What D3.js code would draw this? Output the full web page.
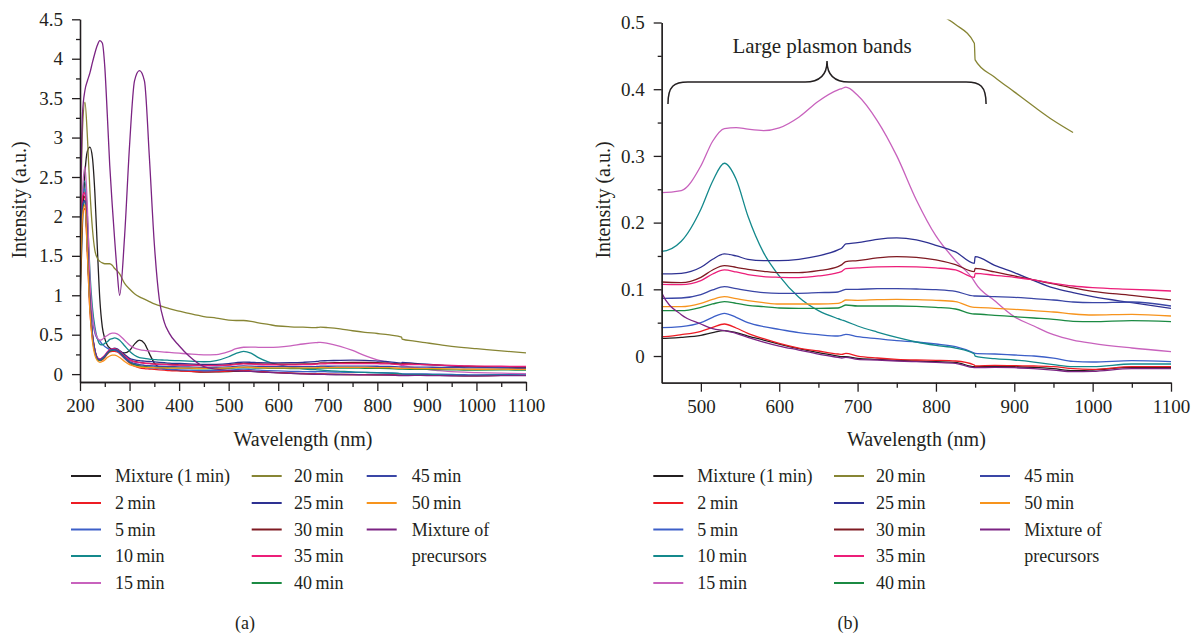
<!DOCTYPE html>
<html>
<head>
<meta charset="utf-8">
<script src="https://cdn.jsdelivr.net/npm/d3@7"></script>
<style>
  body { margin: 0; background: #fff; }
  svg, svg text { font-family: 'Liberation Serif', 'DejaVu Serif', serif; }
</style>
</head>
<body>
<svg></svg>
<script>
// wavelength grid (nm), shared by every spectrum
const wavelengths = [
    200, 205, 210, 215, 220, 225, 230, 235, 240, 245, 250, 255, 260, 265, 270, 275, 280,
    290, 300, 310, 320, 330, 340, 350, 360, 370, 380, 400, 420,
    450, 475, 500, 515, 530, 545, 560, 580, 600, 625, 650, 675, 680, 685, 700,
    725, 750, 775, 800, 825, 849, 850, 875, 900, 925, 950, 975, 1000, 1050, 1100
];

const mix1min = [
    0.9, 1.9, 2.55, 2.83, 2.88, 2.75, 2.3, 1.6, 0.95, 0.6, 0.45, 0.37, 0.33, 0.31, 0.3, 0.29, 0.28,
    0.27, 0.3, 0.38, 0.43, 0.39, 0.26, 0.14, 0.085, 0.065, 0.055, 0.045, 0.038,
    0.0265, 0.028, 0.031, 0.035, 0.038, 0.035, 0.03, 0.024, 0.018, 0.011, 0.005, 0.0, -0.001, -0.001, -0.0035,
    -0.005, -0.0065, -0.0075, -0.0085, -0.0095, -0.016, -0.016, -0.0155, -0.016, -0.017, -0.019, -0.022, -0.021, -0.017, -0.017
];
const min2 = [
    1.2, 2.05, 2.1, 1.5, 0.8, 0.45, 0.27, 0.19, 0.17, 0.18, 0.21, 0.25, 0.28, 0.29, 0.29, 0.28, 0.26,
    0.2, 0.14, 0.1, 0.08, 0.07, 0.065, 0.06, 0.055, 0.05, 0.045, 0.04, 0.035,
    0.029, 0.032, 0.037, 0.043, 0.048, 0.042, 0.034, 0.026, 0.019, 0.012, 0.0075, 0.003, 0.0025, 0.004, 0.0,
    -0.003, -0.005, -0.006, -0.0065, -0.0075, -0.0135, -0.015, -0.014, -0.0145, -0.015, -0.016, -0.019, -0.02, -0.016, -0.016
];
const min5 = [
    1.4, 2.3, 2.35, 1.8, 1.1, 0.7, 0.52, 0.45, 0.42, 0.38, 0.35, 0.33, 0.31, 0.3, 0.3, 0.29, 0.27,
    0.2, 0.15, 0.12, 0.1, 0.09, 0.08, 0.075, 0.07, 0.065, 0.06, 0.055, 0.05,
    0.0425, 0.044, 0.05, 0.058, 0.064, 0.058, 0.05, 0.044, 0.04, 0.035, 0.032, 0.03, 0.031, 0.0325, 0.029,
    0.026, 0.023, 0.021, 0.018, 0.014, 0.0045, 0.004, 0.003, 0.0015, 0.0, -0.003, -0.008, -0.009, -0.007, -0.0085
];
const min10 = [
    1.5, 2.3, 2.45, 2.0, 1.3, 0.85, 0.6, 0.45, 0.38, 0.37, 0.39, 0.41, 0.44, 0.45, 0.46, 0.45, 0.43,
    0.36, 0.29, 0.24, 0.21, 0.2, 0.19, 0.185, 0.18, 0.178, 0.175, 0.17, 0.165,
    0.157, 0.172, 0.22, 0.262, 0.289, 0.265, 0.21, 0.155, 0.12, 0.088, 0.068, 0.056, 0.054, 0.052, 0.045,
    0.036, 0.028, 0.021, 0.016, 0.012, 0.003, 0.0, -0.004, -0.006, -0.009, -0.013, -0.016, -0.016, -0.012, -0.012
];
const min15 = [
    1.3, 2.3, 2.63, 2.1, 1.2, 0.75, 0.55, 0.46, 0.43, 0.44, 0.47, 0.49, 0.51, 0.52, 0.52, 0.51, 0.49,
    0.43, 0.37, 0.33, 0.31, 0.3, 0.295, 0.29, 0.285, 0.28, 0.275, 0.265, 0.255,
    0.245, 0.248, 0.285, 0.322, 0.341, 0.3425, 0.34, 0.338, 0.342, 0.358, 0.382, 0.399, 0.401, 0.403, 0.391,
    0.353, 0.30, 0.234, 0.18, 0.143, 0.112, 0.11, 0.083, 0.059, 0.045, 0.032, 0.024, 0.019, 0.012, 0.0065
];
const min20 = [
    1.5, 3.1, 3.45, 3.0, 2.33, 1.85, 1.57, 1.47, 1.43, 1.41, 1.4, 1.4, 1.4, 1.38, 1.34, 1.31, 1.27,
    1.15, 1.08, 1.02, 0.98, 0.95, 0.92, 0.89, 0.87, 0.85, 0.83, 0.8, 0.77,
    0.73, 0.71, 0.685, 0.68, 0.68, 0.67, 0.65, 0.63, 0.61, 0.6, 0.595, 0.59, 0.592, 0.595, 0.59,
    0.575, 0.55, 0.53, 0.515, 0.497, 0.469, 0.444, 0.418, 0.396, 0.374, 0.353, 0.335, 0.322, 0.295, 0.27
];
const min25 = [
    1.3, 2.15, 2.2, 1.6, 0.9, 0.5, 0.3, 0.21, 0.19, 0.2, 0.23, 0.27, 0.3, 0.32, 0.33, 0.32, 0.3,
    0.25, 0.2, 0.18, 0.17, 0.165, 0.16, 0.155, 0.15, 0.145, 0.14, 0.135, 0.13,
    0.123, 0.124, 0.133, 0.145, 0.153, 0.15, 0.145, 0.143, 0.143, 0.145, 0.15, 0.159, 0.162, 0.168, 0.17,
    0.175, 0.177, 0.174, 0.166, 0.156, 0.139, 0.149, 0.136, 0.125, 0.113, 0.102, 0.095, 0.089, 0.08, 0.0715
];
const min30 = [
    1.4, 2.2, 2.25, 1.6, 0.9, 0.5, 0.3, 0.2, 0.18, 0.2, 0.23, 0.27, 0.3, 0.31, 0.32, 0.31, 0.29,
    0.23, 0.18, 0.16, 0.15, 0.14, 0.135, 0.13, 0.127, 0.125, 0.122, 0.118, 0.115,
    0.111, 0.11, 0.118, 0.129, 0.1355, 0.133, 0.13, 0.127, 0.125, 0.125, 0.128, 0.134, 0.137, 0.1415, 0.143,
    0.147, 0.149, 0.148, 0.144, 0.137, 0.1265, 0.1315, 0.126, 0.12, 0.114, 0.108, 0.102, 0.097, 0.091, 0.084
];
const min35 = [
    1.5, 2.25, 2.3, 1.7, 0.95, 0.52, 0.31, 0.21, 0.19, 0.21, 0.24, 0.28, 0.31, 0.32, 0.32, 0.31, 0.29,
    0.23, 0.18, 0.155, 0.145, 0.138, 0.133, 0.128, 0.124, 0.121, 0.118, 0.114, 0.11,
    0.1075, 0.107, 0.113, 0.123, 0.129, 0.126, 0.122, 0.119, 0.118, 0.1175, 0.12, 0.125, 0.127, 0.131, 0.132,
    0.1335, 0.134, 0.1335, 0.132, 0.129, 0.118, 0.124, 0.121, 0.118, 0.114, 0.109, 0.105, 0.1025, 0.1, 0.0975
];
const min40 = [
    1.3, 2.1, 2.2, 1.6, 0.88, 0.48, 0.28, 0.19, 0.17, 0.19, 0.22, 0.26, 0.29, 0.3, 0.31, 0.3, 0.28,
    0.21, 0.15, 0.12, 0.105, 0.097, 0.092, 0.088, 0.085, 0.082, 0.08, 0.076, 0.072,
    0.068, 0.068, 0.073, 0.078, 0.0815, 0.079, 0.076, 0.074, 0.072, 0.0715, 0.0715, 0.072, 0.074, 0.0765, 0.075,
    0.075, 0.075, 0.0745, 0.073, 0.0705, 0.063, 0.063, 0.061, 0.059, 0.057, 0.055, 0.052, 0.0515, 0.053, 0.0515
];
const min45 = [
    1.3, 2.15, 2.2, 1.6, 0.9, 0.5, 0.3, 0.2, 0.18, 0.2, 0.23, 0.27, 0.3, 0.31, 0.31, 0.3, 0.28,
    0.21, 0.16, 0.135, 0.12, 0.112, 0.107, 0.103, 0.1, 0.098, 0.096, 0.093, 0.09,
    0.0865, 0.087, 0.092, 0.099, 0.104, 0.101, 0.098, 0.095, 0.094, 0.094, 0.095, 0.096, 0.098, 0.1, 0.1,
    0.101, 0.101, 0.1005, 0.0995, 0.097, 0.09, 0.09, 0.089, 0.088, 0.086, 0.084, 0.081, 0.08, 0.081, 0.075
];
const min50 = [
    0.92, 2.0, 2.15, 1.5, 0.8, 0.42, 0.24, 0.17, 0.15, 0.16, 0.18, 0.21, 0.23, 0.24, 0.24, 0.23, 0.21,
    0.16, 0.12, 0.1, 0.09, 0.086, 0.083, 0.081, 0.079, 0.078, 0.077, 0.076, 0.075,
    0.074, 0.074, 0.079, 0.085, 0.089, 0.086, 0.083, 0.08, 0.078, 0.078, 0.078, 0.079, 0.081, 0.084, 0.0835,
    0.0845, 0.085, 0.0845, 0.0835, 0.0815, 0.073, 0.073, 0.0715, 0.07, 0.068, 0.066, 0.063, 0.0615, 0.0625, 0.06
];
const precursors = [
    1.6, 3.3, 3.6, 3.72, 3.82, 3.95, 4.07, 4.17, 4.23, 4.2, 3.9, 3.3, 2.65, 2.15, 1.7, 1.3, 1.0,
    1.75, 2.9, 3.72, 3.85, 3.72, 2.75, 1.65, 0.95, 0.66, 0.52, 0.36, 0.23,
    0.095, 0.062, 0.048, 0.041, 0.038, 0.034, 0.028, 0.021, 0.015, 0.009, 0.003, -0.002, -0.003, -0.002, -0.005,
    -0.006, -0.0075, -0.0085, -0.0095, -0.011, -0.0175, -0.0175, -0.017, -0.0175, -0.019, -0.021, -0.0235, -0.023, -0.019, -0.019
];

const seriesNames = ['Mixture (1\u2009min)', '2\u2009min', '5\u2009min', '10\u2009min', '15\u2009min',
    '20\u2009min', '25\u2009min', '30\u2009min', '35\u2009min', '40\u2009min',
    '45\u2009min', '50\u2009min', 'Mixture of precursors'];
const seriesValues = [mix1min, min2, min5, min10, min15, min20, min25, min30, min35, min40, min45, min50, precursors];
const seriesColors = ['#231f20', '#ed1c24', '#3c5fc8', '#14898c', '#c862bd', '#878534', '#2e3192',
    '#7f1a22', '#ec1e79', '#1b8a43', '#3a46a6', '#f7941d', '#7b2383'];

// in panel (b) the 20 min trace stops short of the axis end
const min20EndB = 975;

const leftXTicks = [200, 300, 400, 500, 600, 700, 800, 900, 1000, 1100];
const leftYTicks = [0, 0.5, 1, 1.5, 2, 2.5, 3, 3.5, 4, 4.5];
const rightXTicks = [500, 600, 700, 800, 900, 1000, 1100];
const rightYTicks = [0, 0.1, 0.2, 0.3, 0.4, 0.5];

const bandLabel = 'Large plasmon bands';
const bandRange = [458, 864];

const width = 1193;
const height = 635;
const ink = '#231f20';
const serif = "'Liberation Serif', 'DejaVu Serif', serif";

let svg = d3.select('svg').attr('width', width).attr('height', height);

let series = seriesNames.map((name, i) => ({
    name: name,
    color: seriesColors[i],
    points: wavelengths.map((w, j) => [w, seriesValues[i][j]])
}));

let panels = [
    {
        key: 'a', xr: [80, 526], yr: [382, 19.3], xd: [200, 1100], yd: [-0.1, 4.5],
        xTicks: leftXTicks, xMinor: d3.range(250, 1100, 100),
        yTicks: leftYTicks, yMinor: d3.range(0.25, 4.5, 0.5),
        titleX: 19, legendLine: [71, 251.7, 366.7], legendText: [115, 294, 411.7], tag: 245
    },
    {
        key: 'b', xr: [661.7, 1171], yr: [382.7, 22.5], xd: [450, 1100], yd: [-0.04, 0.5],
        xTicks: rightXTicks, xMinor: d3.range(550, 1100, 100),
        yTicks: rightYTicks, yMinor: d3.range(0.05, 0.5, 0.1),
        titleX: 603, legendLine: [653.3, 834, 980], legendText: [697.3, 876, 1024.3], tag: 848
    }
];

let drawPanel = (p) => {
    let x = d3.scaleLinear().domain(p.xd).range(p.xr);
    let y = d3.scaleLinear().domain(p.yd).range(p.yr);
    let g = svg.append('g').attr('id', 'panel-' + p.key).attr('font-family', serif);

    g.append('clipPath').attr('id', 'clip-' + p.key)
        .append('rect')
        .attr('x', p.xr[0]).attr('y', p.yr[1] - 3)
        .attr('width', p.xr[1] - p.xr[0]).attr('height', p.yr[0] - p.yr[1] + 3);

    let line = d3.line()
        .x(d => x(d[0]))
        .y(d => y(d[1]))
        .curve(d3.curveMonotoneX);

    let pointsFor = (s) => {
        if (p.key === 'b' && s.name === seriesNames[5]) {
            return s.points.filter(d => d[0] <= min20EndB);
        }
        return s.points;
    };

    g.append('g').attr('clip-path', 'url(#clip-' + p.key + ')')
        .selectAll('path')
        .data(series)
        .enter()
        .append('path')
        .attr('d', d => line(pointsFor(d)))
        .attr('fill', 'none')
        .attr('stroke', d => d.color)
        .attr('stroke-width', 1.3)
        .attr('stroke-linejoin', 'round');

    // axes: major with labels, minor without
    let xAxis = d3.axisBottom(x).tickValues(p.xTicks).tickSizeInner(9).tickSizeOuter(0)
        .tickPadding(8).tickFormat(d => d);
    let xMinor = d3.axisBottom(x).tickValues(p.xMinor).tickSizeInner(5).tickSizeOuter(0).tickFormat('');
    let yAxis = d3.axisLeft(y).tickValues(p.yTicks).tickSizeInner(8).tickSizeOuter(0)
        .tickPadding(9).tickFormat(d => d);
    let yMinor = d3.axisLeft(y).tickValues(p.yMinor).tickSizeInner(4).tickSizeOuter(0).tickFormat('');

    [xMinor, xAxis].forEach(ax => {
        g.append('g').attr('transform', 'translate(0,' + p.yr[0] + ')').call(ax)
            .attr('font-family', serif).attr('font-size', 19);
    });
    [yMinor, yAxis].forEach(ax => {
        g.append('g').attr('transform', 'translate(' + p.xr[0] + ',0)').call(ax)
            .attr('font-family', serif).attr('font-size', 19);
    });

    g.selectAll('.domain, .tick line').attr('stroke', ink).attr('stroke-width', 1.3);
    g.selectAll('.tick text').attr('fill', ink);

    g.append('text')
        .attr('x', (p.xr[0] + p.xr[1]) / 2).attr('y', 446)
        .attr('text-anchor', 'middle').attr('fill', ink).attr('font-size', 20)
        .text('Wavelength (nm)');

    g.append('text')
        .attr('transform', 'translate(' + (p.titleX + 7) + ',200) rotate(-90)')
        .attr('text-anchor', 'middle').attr('fill', ink).attr('font-size', 20)
        .text('Intensity (a.u.)');

    // legend, three columns of five rows
    let rowY = [476, 503, 529.5, 556, 583];
    series.forEach((s, i) => {
        let col = Math.floor(i / 5);
        let row = i % 5;
        let ly = rowY[row];
        g.append('line')
            .attr('x1', p.legendLine[col]).attr('x2', p.legendLine[col] + 30)
            .attr('y1', ly).attr('y2', ly)
            .attr('stroke', s.color).attr('stroke-width', 2);
        let words = s.name === seriesNames[12] ? ['Mixture of', 'precursors'] : [s.name];
        words.forEach((w, k) => {
            g.append('text')
                .attr('x', p.legendText[col]).attr('y', rowY[row + k] + 6)
                .attr('fill', ink).attr('font-size', 18)
                .text(w);
        });
    });

    g.append('text')
        .attr('x', p.tag).attr('y', 629)
        .attr('text-anchor', 'middle').attr('fill', ink).attr('font-size', 18)
        .text('(' + p.key + ')');

    return { x: x, y: y, g: g };
};

let drawBrace = (panel) => {
    let x0 = panel.x(bandRange[0]);
    let x1 = panel.x(bandRange[1]);
    let xm = (x0 + x1) / 2;
    let yb = 82, ye = 104, yt = 61, r = 20;
    let path = d3.path();
    path.moveTo(x0, ye);
    path.bezierCurveTo(x0, yb + 4, x0 + 6, yb, x0 + r, yb);
    path.lineTo(xm - 22, yb);
    path.bezierCurveTo(xm - 8, yb, xm, yb - 6, xm, yt);
    path.bezierCurveTo(xm, yb - 6, xm + 8, yb, xm + 22, yb);
    path.lineTo(x1 - r, yb);
    path.bezierCurveTo(x1 - 6, yb, x1, yb + 4, x1, ye);
    panel.g.append('path')
        .attr('d', path.toString())
        .attr('fill', 'none').attr('stroke', ink).attr('stroke-width', 1.5);
    panel.g.append('text')
        .attr('x', xm - 5).attr('y', 53)
        .attr('text-anchor', 'middle').attr('fill', ink).attr('font-size', 21)
        .text(bandLabel);
};

let left = drawPanel(panels[0]);
let right = drawPanel(panels[1]);
drawBrace(right);
</script>
</body>
</html>
